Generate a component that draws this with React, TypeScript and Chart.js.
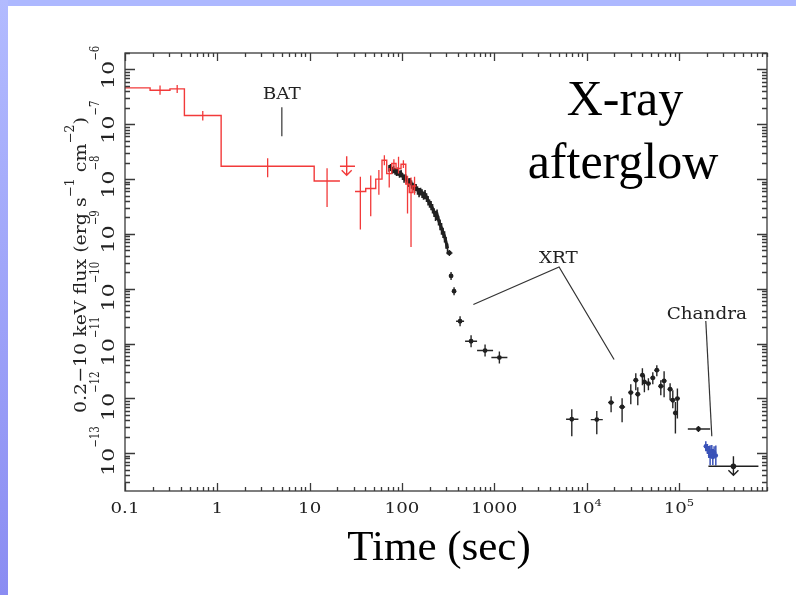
import React, { useEffect, useRef } from 'react';
import { Chart, registerables } from 'chart.js';
Chart.register(...registerables);

// ---------- axes ----------
const xRange = [0.1, 9.0e5];
const yRange = [2.04e-14, 2.0e-6];
const xMajorTicks = [0.1, 1, 10, 100, 1000, 1e4, 1e5];
const xTickLabels = ['0.1', '1', '10', '100', '1000', '10^4', '10^5'];
const yMajorTicks = [1e-13, 1e-12, 1e-11, 1e-10, 1e-9, 1e-8, 1e-7, 1e-6];
const yTickLabels = ['10^-13', '10^-12', '10^-11', '10^-10', '10^-9', '10^-8', '10^-7', '10^-6'];

// ---------- BAT (red histogram bins) ----------
const batLo = [0.1, 0.187, 0.307, 0.44, 1.1, 11.2, 31.0, 40.5, 52, 60.8, 68.4, 77.5, 86.3, 97.7, 110, 120, 131];
const batHi = [0.187, 0.307, 0.44, 1.1, 11.2, 21.3, 40.5, 52, 60.8, 68.4, 77.5, 86.3, 97.7, 110, 120, 131, 143];
const batFlux = [4.62e-7, 4.19e-7, 4.43e-7, 1.45e-7, 1.72e-8, 9.26e-9, 5.93e-9, 6.73e-9, 1.0e-8, 2.21e-8, 1.26e-8, 1.93e-8, 1.56e-8, 1.87e-8, 8.1e-9, 5.7e-9, 7.5e-9];
const batErrLo = [null, 3.45e-7, 3.74e-7, 1.17e-7, 1.08e-8, 3.11e-9, 1.2e-9, 2.1e-9, 5.2e-9, 1.8e-8, 7.0e-9, 1.5e-8, 1.26e-8, 1.6e-8, 2.35e-9, 5.8e-10, 5.2e-9];
const batErrHi = [null, 5.1e-7, 5.23e-7, 1.74e-7, 2.4e-8, 1.58e-8, 1.1e-8, 1.17e-8, 1.46e-8, 2.73e-8, 1.6e-8, 2.3e-8, 2.55e-8, 2.2e-8, 1.15e-8, 1.07e-8, 1.1e-8];
const batGapAfter = 5;
// BAT upper limit: [t, tLo, tHi, flux, top, tip]
const batUpperLimit = [25.2, 21.3, 31.0, 1.72e-8, 2.62e-8, 1.18e-8];

// ---------- XRT windowed-timing (dense band) ----------
const wtT = [72.5, 75.2, 78.1, 81.1, 84.2, 87.4, 90.7, 94.2, 97.8, 101.5, 105.4, 109.4, 113.6, 117.9, 122.4, 127.1, 131.9, 136.9, 142.2, 147.6, 153.2, 159.1, 165.1, 171.4, 177.9, 184.7, 191.8, 199.1, 206.7, 214.6, 222.7, 231.2, 240.1, 249.2, 258.7, 268.5, 278.8, 289.4, 300.5, 311.9];
const wtF = [1.581e-8, 1.649e-8, 1.453e-8, 1.516e-8, 1.393e-8, 1.336e-8, 1.393e-8, 1.228e-8, 1.281e-8, 1.129e-8, 1.038e-8, 1.083e-8, 9.55e-9, 8.78e-9, 9.15e-9, 8.07e-9, 7.42e-9, 6.82e-9, 7.12e-9, 6.27e-9, 5.77e-9, 6.01e-9, 5.53e-9, 5.08e-9, 5.3e-9, 4.67e-9, 4.12e-9, 3.63e-9, 3.34e-9, 2.94e-9, 2.49e-9, 2.19e-9, 2.29e-9, 1.78e-9, 1.5e-9, 1.27e-9, 1.07e-9, 9.08e-10, 7.06e-10, 5.48e-10];
const wtErr = [0.14, 0.15, 0.14, 0.16, 0.14, 0.15, 0.17, 0.14, 0.16, 0.15, 0.17, 0.14, 0.16, 0.18, 0.15, 0.17, 0.16, 0.18, 0.15, 0.17, 0.19, 0.16, 0.18, 0.17, 0.19, 0.18, 0.2, 0.17, 0.19, 0.2, 0.18, 0.21, 0.22, 0.2, 0.22, 0.24, 0.21, 0.23, 0.24, 0.22];

// ---------- XRT individual points ----------
const xrtT = [326.3, 340.4, 366.8, 426.1, 560.7, 794.9, 1136, 6914, 12895, 18427, 24247, 30116, 34120, 35860, 40230, 42280, 46720, 52150, 57640, 63680, 69130, 80280, 85870, 91640, 96300, 162700];
const xrtTLo = [302.8, 323.8, 349, 385.6, 482.9, 651.2, 930, 5997, 11104, 17098, 22500, 28300, 32070, 33700, 37810, 39740, 43910, 49010, 54170, 59850, 64970, 75450, 80700, 86130, 90500, 124900];
const xrtTHi = [352.3, 357.8, 385, 470.8, 651.2, 970.5, 1387, 8152, 14978, 19861, 26130, 32050, 36300, 38160, 42800, 44990, 49710, 55490, 61330, 67760, 73560, 85420, 91370, 97510, 102500, 217800];
const xrtF = [4.5e-10, 1.713e-10, 9.01e-11, 2.552e-11, 1.101e-11, 7.45e-12, 5.55e-12, 4.155e-13, 4.1e-13, 8.38e-13, 6.97e-13, 1.275e-12, 2.14e-12, 1.188e-12, 2.64e-12, 1.992e-12, 1.862e-12, 2.36e-12, 3.26e-12, 1.663e-12, 2.08e-12, 1.466e-12, 9.23e-13, 5.41e-13, 9.92e-13, 2.76e-13];
const xrtFLo = [3.97e-10, 1.447e-10, 7.61e-11, 2.068e-11, 8.56e-12, 5.79e-12, 4.31e-12, 2.03e-13, 2.21e-13, 5.58e-13, 3.66e-13, 7.8e-13, 1.405e-12, 7.48e-13, 1.734e-12, 1.292e-12, 1.405e-12, 1.809e-12, 2.53e-12, 1.139e-12, 1.047e-12, 9.23e-13, 6.6e-13, 2.28e-13, 4.28e-13, 2.44e-13];
const xrtFHi = [5.1e-10, 2.025e-10, 1.065e-10, 3.148e-11, 1.417e-11, 9.59e-12, 7.14e-12, 6.32e-13, 5.89e-13, 1.092e-12, 1.005e-12, 1.809e-12, 2.87e-12, 1.594e-12, 3.54e-12, 2.64e-12, 2.33e-12, 2.996e-12, 4.02e-12, 2.14e-12, 3.12e-12, 1.886e-12, 1.405e-12, 8.6e-13, 1.51e-12, 3.13e-13];
// XRT upper limit: [t, tLo, tHi, flux, top, tip]
const xrtUpperLimit = [389600, 208700, 726600, 5.77e-14, 8.77e-14, 3.95e-14];

// ---------- Chandra ----------
const chT = [195600, 203600, 210800, 217800, 227200, 233000, 240600, 251100];
const chTLo = [186100, 193700, 200600, 207200, 216200, 221700, 228900, 238900];
const chTHi = [205600, 214000, 221600, 228900, 238800, 244900, 252900, 263900];
const chF = [1.336e-13, 1.193e-13, 1.052e-13, 9.16e-14, 1.097e-13, 8.52e-14, 1.038e-13, 9.04e-14];
const chFLo = [1.083e-13, 9.67e-14, 8.17e-14, 6.02e-14, 8.52e-14, 6.09e-14, 8.07e-14, 5.94e-14];
const chFHi = [1.649e-13, 1.472e-13, 1.353e-13, 1.393e-13, 1.411e-13, 1.193e-13, 1.336e-13, 1.376e-13];

// ---------- annotations (data units) ----------
const noteLabels = ['BAT', 'XRT', 'Chandra'];
const noteT = [5.0, 4949, 200600];
const noteF = [3.74e-7, 3.8e-10, 3.62e-11];
const noteLines = [
  [[5.0, 2.05e-7], [5.0, 6.06e-8]],
  [[593.7, 5.15e-11], [5036, 2.5e-10], [19860, 5.11e-12]],
  [[195600, 2.58e-11], [227200, 2.03e-13]],
];

const RED = '#f23a3a';
const BLACK = '#202020';
const BLUE = '#3a52b8';
const AXIS = '#3a3a3a';
const SERIF = '"DejaVu Serif"';

type Part = { text: string; size: number; dy?: number; sx?: number };

function drawRich(ctx: CanvasRenderingContext2D, parts: Part[], x: number, y: number, family: string, align: string, fit?: number) {
  const widths = parts.map((p) => {
    ctx.font = `${p.size}px ${family}`;
    return ctx.measureText(p.text).width * (p.sx ?? 1);
  });
  let total = widths.reduce((a, b) => a + b, 0);
  let k = 1;
  if (fit) { k = fit / total; total = fit; }
  let cx = align === 'center' ? x - total / 2 : align === 'right' ? x - total : x;
  parts.forEach((p, i) => {
    ctx.save();
    ctx.font = `${p.size}px ${family}`;
    ctx.translate(cx, y + (p.dy || 0));
    ctx.scale((p.sx ?? 1) * k, 1);
    ctx.textAlign = 'left';
    ctx.textBaseline = 'alphabetic';
    ctx.fillText(p.text, 0, 0);
    ctx.restore();
    cx += widths[i] * k;
  });
}

function labelParts(label: string, size: number, supSize: number, sx: number, supSx: number, rise: number): Part[] {
  const [base, exp] = label.split('^');
  const parts: Part[] = [{ text: base, size, sx }];
  if (exp) parts.push({ text: exp.replace('-', '\u2212'), size: supSize, sx: supSx, dy: -rise });
  return parts;
}

const customPlugin = {
  id: 'afterglowDecor',
  beforeDraw(chart: any) {
    const ctx: CanvasRenderingContext2D = chart.ctx;
    const W = chart.width, H = chart.height;
    ctx.save();
    ctx.fillStyle = '#ffffff';
    ctx.fillRect(0, 0, W, H);
    ctx.fillStyle = '#adb8ff';
    ctx.fillRect(0, 0, W, 6);
    const g = ctx.createLinearGradient(0, 0, 0, H);
    g.addColorStop(0, '#b2bbff');
    g.addColorStop(1, '#8a8cf2');
    ctx.fillStyle = g;
    ctx.fillRect(0, 0, 8, H);
    ctx.restore();
  },
  beforeDatasetsDraw(chart: any) {
    const ctx: CanvasRenderingContext2D = chart.ctx;
    const xs = chart.scales.x, ys = chart.scales.y;
    const a = chart.chartArea;
    const X = (v: number) => xs.getPixelForValue(v);
    const Y = (v: number) => ys.getPixelForValue(v);
    ctx.save();
    ctx.beginPath();
    ctx.rect(a.left, a.top, a.right - a.left, a.bottom - a.top);
    ctx.clip();
    // WT band error bars
    ctx.strokeStyle = BLACK;
    ctx.lineWidth = 1.6;
    ctx.beginPath();
    wtT.forEach((t, i) => {
      ctx.moveTo(X(t), Y(wtF[i] * (1 - wtErr[i])));
      ctx.lineTo(X(t), Y(wtF[i] * (1 + wtErr[i])));
    });
    ctx.stroke();
    // XRT crosses
    ctx.lineWidth = 1.4;
    ctx.strokeStyle = '#262626';
    ctx.beginPath();
    xrtT.forEach((t, i) => {
      ctx.moveTo(X(t), Y(xrtFLo[i]));
      ctx.lineTo(X(t), Y(xrtFHi[i]));
      ctx.moveTo(X(xrtTLo[i]), Y(xrtF[i]));
      ctx.lineTo(X(xrtTHi[i]), Y(xrtF[i]));
    });
    ctx.stroke();
    // Chandra crosses
    ctx.strokeStyle = BLUE;
    ctx.lineWidth = 1.5;
    ctx.beginPath();
    chT.forEach((t, i) => {
      ctx.moveTo(X(t), Y(chFLo[i]));
      ctx.lineTo(X(t), Y(chFHi[i]));
      ctx.moveTo(X(chTLo[i]), Y(chF[i]));
      ctx.lineTo(X(chTHi[i]), Y(chF[i]));
    });
    ctx.stroke();
    ctx.restore();
  },
  afterDatasetsDraw(chart: any) {
    const ctx: CanvasRenderingContext2D = chart.ctx;
    const xs = chart.scales.x, ys = chart.scales.y;
    const a = chart.chartArea;
    const X = (v: number) => xs.getPixelForValue(v);
    const Y = (v: number) => ys.getPixelForValue(v);

    const drawUL = (ul: number[], color: string, dot: boolean) => {
      const [t, lo, hi, f, top, tip] = ul;
      const px = X(t), tipY = Y(tip);
      ctx.strokeStyle = color;
      ctx.lineWidth = 1.4;
      ctx.beginPath();
      ctx.moveTo(X(lo), Y(f));
      ctx.lineTo(X(hi), Y(f));
      ctx.moveTo(px, Y(top));
      ctx.lineTo(px, tipY);
      ctx.moveTo(px - 5, tipY - 5);
      ctx.lineTo(px, tipY);
      ctx.lineTo(px + 5, tipY - 5);
      ctx.stroke();
      if (dot) {
        ctx.fillStyle = color;
        ctx.beginPath();
        ctx.arc(px, Y(f), 2.8, 0, Math.PI * 2);
        ctx.fill();
      }
    };

    ctx.save();
    ctx.beginPath();
    ctx.rect(a.left, a.top, a.right - a.left, a.bottom - a.top);
    ctx.clip();
    // BAT error bars
    ctx.strokeStyle = RED;
    ctx.lineWidth = 1.3;
    ctx.beginPath();
    batLo.forEach((lo, i) => {
      const eLo = batErrLo[i], eHi = batErrHi[i];
      if (eLo == null || eHi == null) return;
      const t = Math.sqrt(lo * batHi[i]);
      ctx.moveTo(X(t), Y(eLo));
      ctx.lineTo(X(t), Y(eHi));
    });
    ctx.stroke();
    drawUL(batUpperLimit, RED, false);
    drawUL(xrtUpperLimit, BLACK, true);
    ctx.restore();

    // frame
    ctx.save();
    ctx.strokeStyle = AXIS;
    ctx.lineWidth = 1.3;
    ctx.strokeRect(a.left, a.top, a.right - a.left, a.bottom - a.top);
    // ticks
    ctx.beginPath();
    for (let e = -1; e <= 5; e++) {
      for (let m = 1; m <= 9; m++) {
        const v = m * Math.pow(10, e);
        if (v < xRange[0] || v > xRange[1]) continue;
        const px = Math.round(X(v)) + 0.5;
        const len = m === 1 ? 8 : 4;
        ctx.moveTo(px, a.bottom); ctx.lineTo(px, a.bottom - len);
        ctx.moveTo(px, a.top); ctx.lineTo(px, a.top + len);
      }
    }
    for (let e = -14; e <= -6; e++) {
      for (let m = 1; m <= 9; m++) {
        const v = m * Math.pow(10, e);
        if (v < yRange[0] || v > yRange[1]) continue;
        const py = Math.round(Y(v)) + 0.5;
        const len = m === 1 ? 10 : 5;
        ctx.moveTo(a.left, py); ctx.lineTo(a.left + len, py);
        ctx.moveTo(a.right, py); ctx.lineTo(a.right - len, py);
      }
    }
    ctx.stroke();

    // tick labels
    ctx.fillStyle = '#222222';
    xMajorTicks.forEach((v, i) => {
      drawRich(ctx, labelParts(xTickLabels[i], 14, 10, 1.3, 1.15, 7.5), X(v), 513, SERIF, 'center');
    });
    yMajorTicks.forEach((v, i) => {
      ctx.save();
      ctx.translate(113.5, Y(v) - 2);
      ctx.rotate(-Math.PI / 2);
      drawRich(ctx, labelParts(yTickLabels[i], 16.5, 12, 1.35, 0.85, 15), 0, 0, SERIF, 'center');
      ctx.restore();
    });

    // y axis title
    ctx.save();
    ctx.translate(86, 265);
    ctx.rotate(-Math.PI / 2);
    drawRich(ctx, [
      { text: '0.2\u221210 keV flux (erg s', size: 17.5 },
      { text: '\u22121', size: 12, dy: -12 },
      { text: ' cm', size: 17.5 },
      { text: '\u22122', size: 12, dy: -12 },
      { text: ')', size: 17.5 },
    ], 0, 0, SERIF, 'center', 296);
    ctx.restore();

    // annotations
    ctx.strokeStyle = '#333333';
    ctx.lineWidth = 1.2;
    noteLines.forEach((pts) => {
      ctx.beginPath();
      pts.forEach(([t, f], j) => {
        if (j === 0) ctx.moveTo(X(t), Y(f)); else ctx.lineTo(X(t), Y(f));
      });
      ctx.stroke();
    });
    ctx.fillStyle = '#222222';
    noteLabels.forEach((lab, i) => {
      drawRich(ctx, [{ text: lab, size: 16, sx: 1.15 }], X(noteT[i]), Y(noteF[i]) + 6.5, SERIF, 'center');
    });

    // slide texts
    ctx.fillStyle = '#000000';
    ctx.font = '50px "Liberation Serif"';
    ctx.textAlign = 'center';
    ctx.textBaseline = 'alphabetic';
    ctx.fillText('X-ray', 625, 115);
    ctx.fillText('afterglow', 623, 178);
    ctx.font = '43px "Liberation Serif"';
    ctx.fillText('Time (sec)', 439, 560);
    ctx.restore();
  },
};

export default function App() {
  const ref = useRef<HTMLCanvasElement>(null);
  useEffect(() => {
    document.body.style.margin = '0';
    const canvas = ref.current;
    if (!canvas) return;

    const batLine: any[] = [];
    batLo.forEach((lo, i) => {
      batLine.push({ x: lo, y: batFlux[i] });
      batLine.push({ x: batHi[i], y: batFlux[i] });
      if (i === batGapAfter) batLine.push({ x: batHi[i], y: null });
    });
    const wtLine = wtT.map((t, i) => ({ x: t, y: wtF[i] }));
    const xrtPts = xrtT.map((t, i) => ({ x: t, y: xrtF[i] }));
    const chPts = chT.map((t, i) => ({ x: t, y: chF[i] }));

    const chart = new Chart(canvas, {
      type: 'line',
      data: {
        datasets: [
          { label: 'BAT', data: batLine, borderColor: RED, borderWidth: 1.4, pointRadius: 0, spanGaps: false, fill: false, tension: 0, order: 0 } as any,
          { label: 'XRT', data: xrtPts, showLine: false, pointRadius: 2.4, pointBackgroundColor: BLACK, pointBorderWidth: 0, order: 1 } as any,
          { label: 'Chandra', data: chPts, showLine: false, pointRadius: 2.2, pointBackgroundColor: BLUE, pointBorderWidth: 0, order: 1 } as any,
          { label: 'XRT WT', data: wtLine, borderColor: BLACK, borderWidth: 3, pointRadius: 0, fill: false, tension: 0, order: 2 } as any,
        ],
      },
      options: {
        animation: false,
        responsive: false,
        devicePixelRatio: 1,
        events: [],
        layout: { padding: { left: 125, top: 53, right: 29, bottom: 104 } },
        plugins: { legend: { display: false }, tooltip: { enabled: false } },
        scales: {
          x: { type: 'logarithmic', min: xRange[0], max: xRange[1], display: false },
          y: { type: 'logarithmic', min: yRange[0], max: yRange[1], display: false },
        },
      } as any,
      plugins: [customPlugin],
    });
    return () => chart.destroy();
  }, []);
  return <canvas ref={ref} width={796} height={595} style={{ display: 'block' }} />;
}
